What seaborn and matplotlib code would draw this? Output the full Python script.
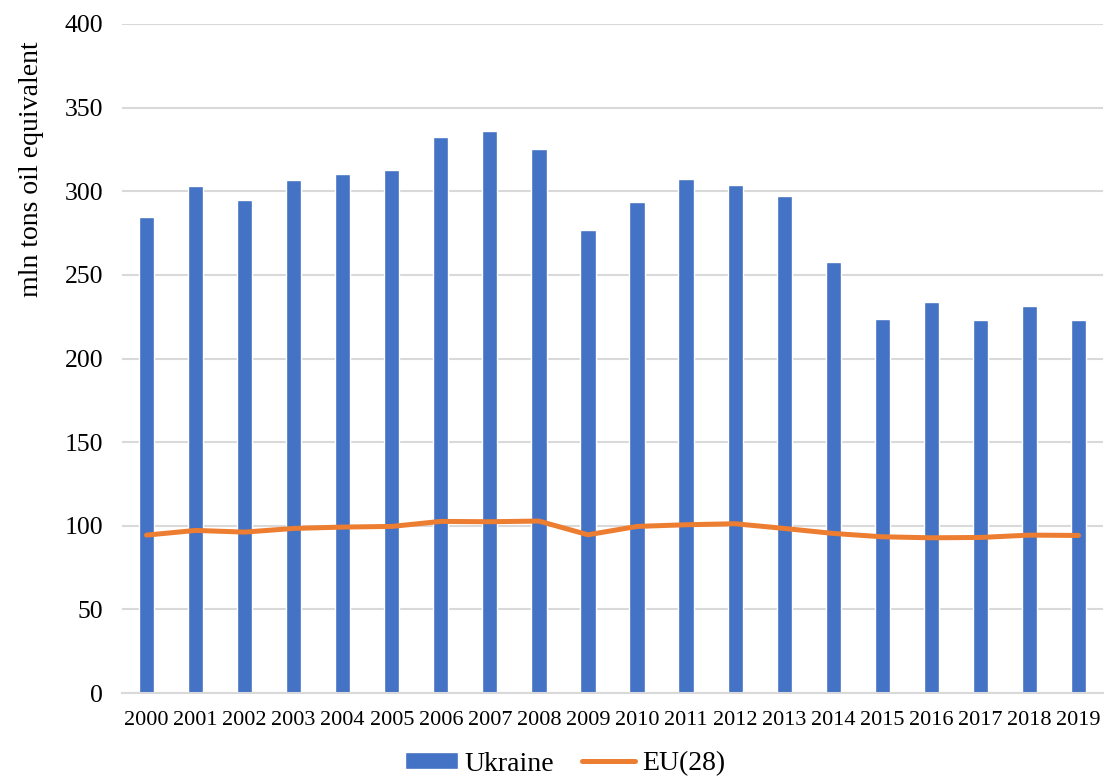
import matplotlib
matplotlib.use("Agg")
import matplotlib.pyplot as plt
import seaborn as sns
import pandas as pd

years = [str(y) for y in range(2000, 2020)]
ukraine = [284.9, 303.2, 295.0, 306.6, 310.2, 312.8, 332.3, 335.9, 325.0, 276.8,
           293.8, 307.5, 303.8, 297.2, 257.5, 223.7, 233.8, 223.1, 231.4, 223.1]
eu28 = [94.4, 97.2, 96.2, 98.4, 99.2, 99.6, 102.6, 102.4, 102.8, 94.6,
        99.6, 100.6, 101.2, 98.4, 95.4, 93.4, 92.8, 93.0, 94.4, 94.2]
yticks = [0, 50, 100, 150, 200, 250, 300, 350, 400]

BLUE = "#4472C4"
ORANGE = "#ED7D31"
GRID = "#D9D9D9"

sns.set_theme(style="white")
plt.rcParams["font.family"] = ["Liberation Serif", "DejaVu Serif"]
plt.rcParams["text.color"] = "black"
plt.rcParams["axes.labelcolor"] = "black"
plt.rcParams["xtick.color"] = "black"
plt.rcParams["ytick.color"] = "black"

df = pd.DataFrame({"year": years, "Ukraine": ukraine, "EU(28)": eu28})

fig = plt.figure(figsize=(11.04, 7.78), dpi=100)
ax = fig.add_axes([122 / 1104, 1 - 693 / 778, (1103 - 122) / 1104, (693 - 24) / 778])

sns.barplot(data=df, x="year", y="Ukraine", color=BLUE, saturation=1,
            width=0.31, ax=ax, label="Ukraine", zorder=2)
sns.pointplot(data=df, x="year", y="EU(28)", color=ORANGE, marker="",
              linewidth=3.6, ax=ax, label="EU(28)", errorbar=None)
for ln in ax.lines:
    ln.set_zorder(3)
    ln.set_solid_capstyle("round")
    ln.set_solid_joinstyle("round")

ax.set_ylim(0, 400)
ax.set_xlim(-0.5, len(years) - 0.5)
ax.set_yticks(yticks)
ax.set_yticklabels([str(t) for t in yticks], fontsize=18.5)
ax.tick_params(axis="x", labelsize=16, length=0, pad=13)
ax.tick_params(axis="y", length=0, pad=13.5)
ax.grid(axis="y", color=GRID, linewidth=1.5, zorder=0)
ax.set_axisbelow(True)
for side in ["top", "right", "left"]:
    ax.spines[side].set_visible(False)
ax.spines["bottom"].set_color(GRID)
ax.spines["bottom"].set_linewidth(1.5)
ax.set_xlabel("")
ax.set_ylabel("mln tons oil equivalent", fontsize=20)
ax.yaxis.set_label_coords(-(122 - 44) / (1103 - 122), (693 - 169) / (693 - 24))

handles, labels = ax.get_legend_handles_labels()
if ax.get_legend() is not None:
    ax.get_legend().remove()
order = [labels.index("Ukraine"), labels.index("EU(28)")]
fig.legend([handles[i] for i in order], [labels[i] for i in order],
           loc="center", bbox_to_anchor=(565 / 1104, 1 - 764 / 778),
           ncol=2, frameon=False, fontsize=20, handlelength=1.9,
           handleheight=0.55, handletextpad=0.25, columnspacing=1.0)

fig.savefig("out.png", dpi=100, facecolor="white")
